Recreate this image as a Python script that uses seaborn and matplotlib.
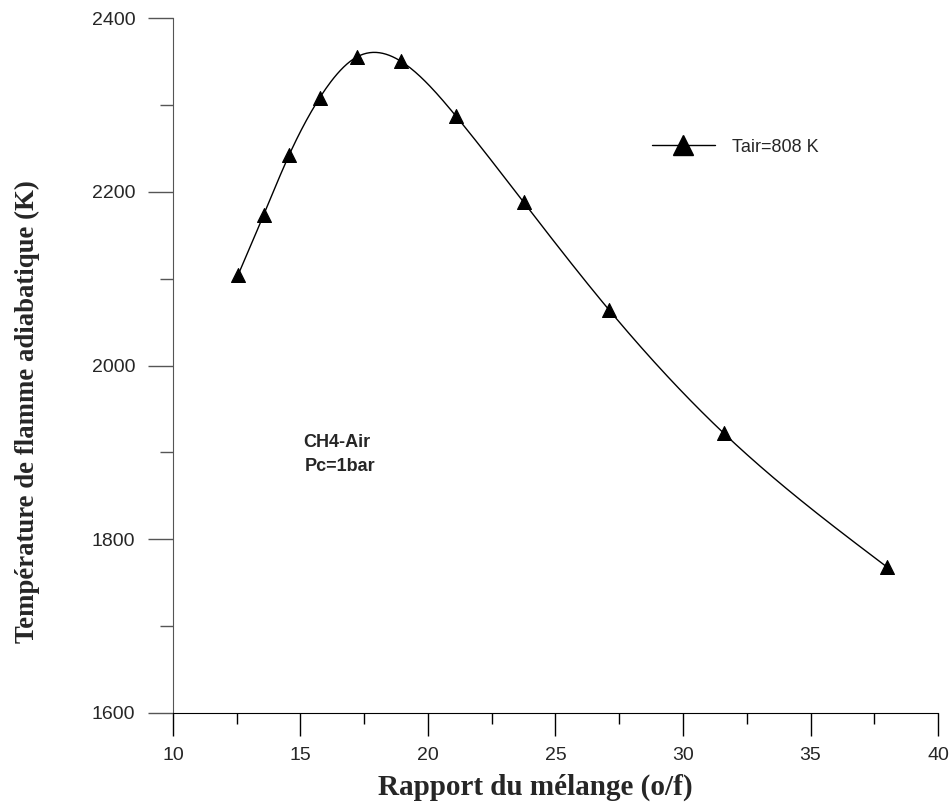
"""
Température de flamme adiabatique CH4-Air en fonction du rapport de mélange.
"""

import matplotlib
matplotlib.use("Agg")
import matplotlib.pyplot as plt
from matplotlib.lines import Line2D
from matplotlib.ticker import MultipleLocator
import numpy as np
import pandas as pd
import seaborn as sns

# Données
rapport = [12.55, 13.55, 14.55, 15.75, 17.2, 18.95, 21.1, 23.75, 27.1, 31.6, 38.0]
temperature = [2104, 2173, 2242, 2308, 2355, 2350, 2287, 2188, 2064, 1922, 1768]
legende = "Tair=808 K"


def spline_naturelle(x, y, n=400):
    """Spline cubique naturelle passant par les points (lissage du tracé)."""
    x = np.asarray(x, float)
    y = np.asarray(y, float)
    h = np.diff(x)
    m = len(x)
    A = np.zeros((m, m))
    b = np.zeros(m)
    A[0, 0] = A[-1, -1] = 1
    for i in range(1, m - 1):
        A[i, i - 1] = h[i - 1]
        A[i, i] = 2 * (h[i - 1] + h[i])
        A[i, i + 1] = h[i]
        b[i] = 3 * ((y[i + 1] - y[i]) / h[i] - (y[i] - y[i - 1]) / h[i - 1])
    c = np.linalg.solve(A, b)
    xs = np.linspace(x[0], x[-1], n)
    k = np.clip(np.searchsorted(x, xs) - 1, 0, m - 2)
    dx = xs - x[k]
    bb = (y[k + 1] - y[k]) / h[k] - h[k] * (2 * c[k] + c[k + 1]) / 3
    d = (c[k + 1] - c[k]) / (3 * h[k])
    ys = y[k] + bb * dx + c[k] * dx ** 2 + d * dx ** 3
    return xs, ys


sns.set_style("ticks")
plt.rcParams["font.family"] = ["Liberation Sans", "DejaVu Sans"]

df = pd.DataFrame({"rapport": rapport, "temperature": temperature})
xs, ys = spline_naturelle(rapport, temperature)
df_courbe = pd.DataFrame({"rapport": xs, "temperature": ys})

fig = plt.figure(figsize=(9.52, 8.05), dpi=100)
ax = fig.add_axes([0.1817, 0.1143, 0.8036, 0.8633])

sns.lineplot(data=df_courbe, x="rapport", y="temperature", ax=ax,
             color="black", linewidth=1.0, sort=False)
sns.scatterplot(data=df, x="rapport", y="temperature", ax=ax,
                marker="^", color="black", s=100, edgecolor="black", zorder=3)

ax.set_xlim(10, 40)
ax.set_ylim(1600, 2400)
ax.xaxis.set_major_locator(MultipleLocator(5))
ax.xaxis.set_minor_locator(MultipleLocator(2.5))
ax.yaxis.set_major_locator(MultipleLocator(200))
ax.yaxis.set_minor_locator(MultipleLocator(100))
ax.tick_params(axis="x", which="major", length=16.5, width=1.0,
               labelsize=14, color="black", pad=8)
ax.tick_params(axis="x", which="minor", length=8, width=1.0, color="black")
ax.tick_params(axis="y", which="major", length=18, width=1.0,
               labelsize=14, color="#555555", pad=9)
ax.tick_params(axis="y", which="minor", length=9.5, width=1.0, color="#555555")
for s in ("top", "right"):
    ax.spines[s].set_visible(False)
ax.spines["left"].set_color("#555555")
ax.spines["bottom"].set_color("black")

ax.set_xlabel("Rapport du mélange (o/f)", fontfamily="Liberation Serif",
              fontweight="bold", fontsize=21)
ax.set_ylabel("Température de flamme adiabatique (K)", fontfamily="Liberation Serif",
              fontweight="bold", fontsize=19.3)
ax.xaxis.set_label_coords(0.473, -0.087)
ax.yaxis.set_label_coords(-0.174, 0.433)

ax.text(0.170, 0.383, "CH4-Air", transform=ax.transAxes, fontsize=13,
        fontweight="bold")
ax.text(0.1725, 0.348, "Pc=1bar", transform=ax.transAxes, fontsize=13,
        fontweight="bold")

poignee = Line2D([], [], color="black", linewidth=1.0, marker="^",
                 markersize=14)
ax.legend([poignee], [legende], loc="center left", bbox_to_anchor=(0.626, 0.814),
          frameon=False, fontsize=13, handlelength=3.5, handletextpad=0.94,
          borderpad=0, borderaxespad=0)

fig.savefig("out.png", dpi=100)
plt.close(fig)
